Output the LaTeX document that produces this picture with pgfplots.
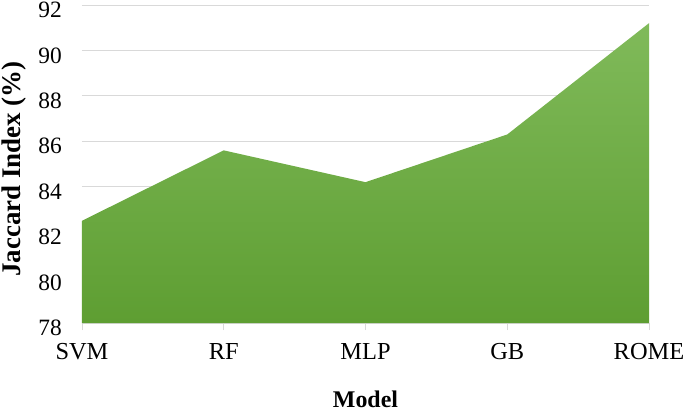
\documentclass[border=0pt]{standalone}
\usepackage{pgfplots}
\pgfplotsset{compat=1.18}
\usepackage{fontspec}
\setmainfont{Liberation Serif}
\definecolor{gridgray}{RGB}{217,217,217}
\definecolor{gtop}{RGB}{128,186,90}
\definecolor{gbot}{RGB}{94,158,50}
\begin{document}
\begin{tikzpicture}
\begin{axis}[
  at={(0,0)}, anchor=south west,
  scale only axis, width=567bp, height=318bp,
  xmin=0, xmax=4, ymin=78, ymax=92,
  xtick={0,1,2,3,4}, xticklabels={SVM,RF,MLP,GB,ROME},
  ytick={78,80,...,92},
  ymajorgrids, grid style={gridgray, line width=0.8pt},
  axis x line*=bottom, axis y line*=left,
  x axis line style={gridgray, line width=0.8pt, -},
  y axis line style={draw=none},
  xtick style={gridgray, line width=0.8pt},
  ytick style={draw=none},
  tick align=outside,
  major tick length=7bp,
  /pgf/number format/assume math mode=true,
  tick label style={font=\fontsize{24.5}{28}\selectfont, text=black},
  yticklabel style={font=\fontsize{23.5}{27}\selectfont, anchor=east, inner sep=0pt, xshift=-13bp, yshift=-5bp},
  xticklabel style={anchor=base, inner sep=0pt, yshift=-29bp},
  xlabel={Model},
  ylabel={Jaccard Index (\%)},
  xlabel style={font=\fontsize{24}{28}\selectfont\bfseries, at={(axis description cs:0.5,0)}, anchor=base, inner sep=0pt, yshift=-84bp},
  ylabel style={font=\fontsize{27}{31}\selectfont\bfseries, at={(axis description cs:-0.1076,0.484)}, anchor=base, inner sep=0pt},
]
\addplot[draw=none, top color=gtop, bottom color=gbot] coordinates {
  (0,82.5) (1,85.6) (2,84.2) (3,86.3) (4,91.2)
} \closedcycle;
\end{axis}
\pgfresetboundingbox
\path[use as bounding box] (-82bp,-88bp) rectangle (603bp,323bp);
\end{tikzpicture}
\end{document}
